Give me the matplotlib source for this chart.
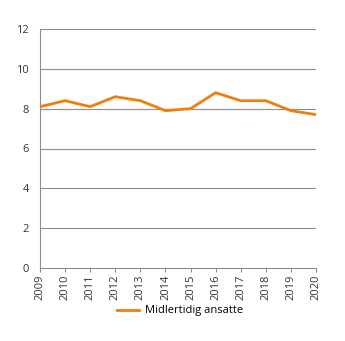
import matplotlib
matplotlib.use('Agg')
import matplotlib.pyplot as plt

years = [2009, 2010, 2011, 2012, 2013, 2014, 2015, 2016, 2017, 2018, 2019, 2020]
midlertidig = [8.1, 8.4, 8.1, 8.6, 8.4, 7.9, 8.0, 8.8, 8.4, 8.4, 7.9, 7.7]
yticks = [0, 2, 4, 6, 8, 10, 12]

plt.rcParams['font.family'] = ['Open Sans', 'DejaVu Sans']

fig = plt.figure(figsize=(3.45, 3.41), dpi=100)
ax = fig.add_axes([40 / 345, 1 - 268 / 341, 276 / 345, 239 / 341])

for y in yticks[1:]:
    ax.axhline(y, color='#8c8c8c', lw=0.8, zorder=1)

ax.plot(years, midlertidig, color='#f07d0f', lw=2, label='Midlertidig ansatte', zorder=3)

ax.set_xlim(2009, 2020)
ax.set_ylim(0, 12)
ax.set_yticks(yticks)
ax.set_xticks(years)
ax.set_xticklabels([str(y) for y in years], rotation=90)
ax.tick_params(axis='y', length=0, pad=8, labelsize=8, colors='#333333')
ax.tick_params(axis='x', length=3, width=0.8, color='#8c8c8c', labelsize=8, labelcolor='#333333', pad=2)

for side in ['top', 'right']:
    ax.spines[side].set_visible(False)
for side in ['left', 'bottom']:
    ax.spines[side].set_color('#8c8c8c')
    ax.spines[side].set_linewidth(0.8)

fig.legend(loc='center', bbox_to_anchor=(180 / 345, 1 - 311 / 341), frameon=False,
           fontsize=8, handlelength=2, handletextpad=0.5)

fig.savefig('out.png', dpi=100)
